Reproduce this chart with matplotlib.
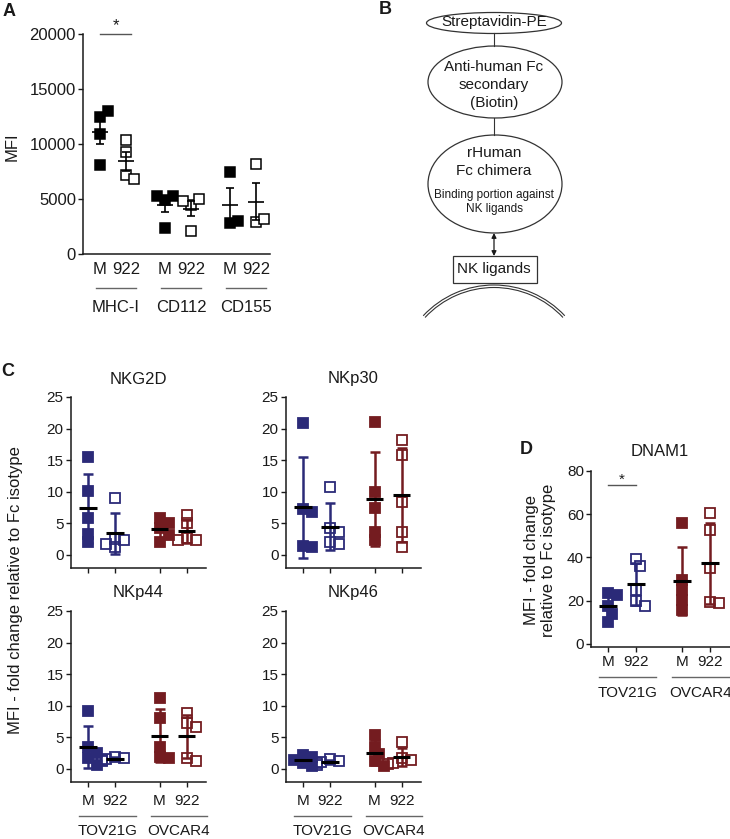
import numpy as np
import matplotlib
matplotlib.use('Agg')
import matplotlib.pyplot as plt
from matplotlib.patches import Ellipse, Arc, Rectangle

plt.rcParams['font.family'] = ['Liberation Sans', 'DejaVu Sans']

W, H = 730, 839
NAVY = '#2b2a78'
RED = '#741c20'
INK = '#1a1a1a'

# panel A - MFI
a_groups = ['MHC-I', 'CD112', 'CD155']
a_ticks = ['M', '922', 'M', '922', 'M', '922']
a_M = [[12500, 13000, 10900, 8100], [4900, 5300, 5300, 2400], [7500, 2800, 3000]]
a_922 = [[10400, 9300, 7200, 6800], [4500, 5000, 4800, 2100], [8200, 2900, 3200]]

# panel C / D - fold change (TOV21G M, TOV21G 922, OVCAR4 M, OVCAR4 922)
c_ticks = ['M', '922', 'M', '922']
c_lines = ['TOV21G', 'OVCAR4']
nkg2d = [[15.5, 10.2, 5.8, 3.3, 2.0], [9.0, 2.6, 2.3, 1.8, 1.3],
         [5.9, 5.0, 4.2, 3.2, 2.1], [6.4, 5.0, 2.7, 2.4, 2.3]]
nkp30 = [[20.9, 7.2, 6.8, 1.5, 1.2], [10.8, 4.2, 3.7, 2.0, 1.7],
         [21.1, 10.0, 7.4, 3.7, 2.3], [18.2, 15.8, 8.4, 3.7, 1.3]]
nkp44 = [[9.1, 3.5, 2.5, 1.7, 0.7], [1.9, 1.7, 1.6, 1.5, 1.3],
         [11.3, 8.0, 3.5, 1.9, 1.7], [8.8, 7.3, 6.7, 1.7, 1.3]]
nkp46 = [[2.2, 1.9, 1.4, 0.9, 0.4], [1.6, 1.3, 1.1, 0.9, 0.7],
         [5.4, 3.5, 2.3, 1.2, 0.5], [4.3, 1.8, 1.5, 1.0, 0.8]]
dnam1 = [[23.5, 22.5, 17.5, 14.0, 10.0], [39.5, 36.0, 25.0, 20.0, 17.5],
         [55.8, 29.5, 24.9, 20.3, 15.6], [60.5, 52.5, 35.0, 19.5, 19.0]]

fig = plt.figure(figsize=(W / 100, H / 100), dpi=100)


def px_axes(l, t, r, b):
    return fig.add_axes([l / W, 1 - b / H, (r - l) / W, (b - t) / H])


def px_text(x, y, s, **kw):
    fig.text(x / W, 1 - y / H, s, ha='center', va='center', color=INK, **kw)


def style(ax, fs):
    for s in ['top', 'right']:
        ax.spines[s].set_visible(False)
    for s in ['left', 'bottom']:
        ax.spines[s].set_linewidth(1.1)
        ax.spines[s].set_color(INK)
    ax.tick_params(length=3.6, width=1, colors=INK, labelsize=fs, pad=1.5)


def swarm(ax, x0, vals, size):
    # spread overlapping points sideways (pixel space)
    tr = ax.transData
    placed, xs = [], []
    for v in vals:
        bx, by = tr.transform((x0, v))
        for k in [0, 1, -1, 2, -2, 3, -3]:
            px = bx + k * 0.45 * size
            if all(np.hypot(px - qx, by - qy) >= 0.8 * size for qx, qy in placed):
                break
        placed.append((px, by))
        xs.append(tr.inverted().transform((px, by))[0])
    return xs


def group_labels(ax, centers, names, line_off, text_off, half, shift, fs):
    hpx = ax.get_position().height * H
    tr = ax.get_xaxis_transform()
    for c, n in zip(centers, names):
        ax.plot([c - half + shift, c + half + shift], [-line_off / hpx] * 2,
                transform=tr, color='#666666', lw=1, clip_on=False)
        ax.text(c + shift, -text_off / hpx, n, transform=tr, ha='center',
                va='center', fontsize=fs, color=INK)


# ---------------- panel A ----------------
axA = px_axes(83, 34, 270, 254)
a_pos = [0, 1, 2.5, 3.5, 5, 6]
axA.set_xlim(-0.65, 6.54)
axA.set_ylim(0, 20000)
style(axA, 12)
for i in range(3):
    for x0, vals, filled in [(a_pos[2 * i], a_M[i], True), (a_pos[2 * i + 1], a_922[i], False)]:
        vals = np.array(vals, dtype=float)
        xs = swarm(axA, x0, vals, 9)
        axA.plot(xs, vals, 's', ms=6.6, mfc='black' if filled else 'white',
                 mec='black', mew=1.1, ls='none', zorder=2)
        m = vals.mean()
        sem = vals.std(ddof=1) / np.sqrt(len(vals))
        axA.errorbar(x0, m, yerr=sem, fmt='none', ecolor='black', elinewidth=1.2,
                     capsize=2.6, capthick=1.2, zorder=3)
        axA.hlines(m, x0 - 0.3, x0 + 0.3, color='black', lw=1.2, zorder=4)
axA.set_yticks([0, 5000, 10000, 15000, 20000])
axA.set_xticks(a_pos)
axA.set_xticklabels(a_ticks)
axA.tick_params(axis='x', length=0, pad=6)
group_labels(axA, [0.5, 3.0, 5.5], a_groups, 34, 54, 0.77, 0.12, 12)
axA.plot([0, 1.2], [20000, 20000], color='#555555', lw=1, clip_on=False)
axA.annotate('*', xy=(0.6, 20000), xytext=(0, 6), textcoords='offset points',
             ha='center', va='center', fontsize=12, color=INK)
px_text(12, 147, 'MFI', rotation=90, fontsize=12)
px_text(9, 11, 'A', fontsize=13, fontweight='bold')

# ---------------- panel B ----------------
axB = px_axes(370, 0, 620, 320)
axB.set_xlim(370, 620)
axB.set_ylim(320, 0)
axB.axis('off')
ec = '#333333'
axB.add_patch(Ellipse((494, 23), 135, 21, fill=False, ec=ec, lw=0.9))
axB.add_patch(Ellipse((495, 82), 134, 72, fill=False, ec=ec, lw=0.9))
axB.add_patch(Ellipse((495, 184), 134, 98, fill=False, ec=ec, lw=0.9))
axB.plot([494, 494], [33.5, 46], color=ec, lw=0.8)
axB.plot([494, 494], [118, 135], color=ec, lw=0.8)
axB.annotate('', xy=(494, 233), xytext=(494, 256),
             arrowprops=dict(arrowstyle='<|-|>', color=INK, lw=0.9,
                             mutation_scale=7, shrinkA=0, shrinkB=0))
axB.add_patch(Rectangle((453, 256), 84, 27, fill=False, ec=ec, lw=0.9))
axB.add_patch(Arc((494, 381.8), 2 * 96.8, 2 * 96.8, theta1=223, theta2=317, ec=ec, lw=0.8))
axB.add_patch(Arc((494, 381.8), 2 * 94.3, 2 * 94.3, theta1=223, theta2=317, ec=ec, lw=0.8))
for y, s, fs in [(22, 'Streptavidin-PE', 11), (67, 'Anti-human Fc', 11),
                 (85, 'secondary', 11), (103, '(Biotin)', 11),
                 (153, 'rHuman', 11), (171, 'Fc chimera', 11),
                 (195, 'Binding portion against', 8.5), (209, 'NK ligands', 8.5),
                 (269, 'NK ligands', 11)]:
    axB.text(494, y, s, ha='center', va='center', fontsize=fs, color=INK)
px_text(385, 10, 'B', fontsize=13, fontweight='bold')

# ---------------- panel C ----------------
c_pos = [0, 1, 2.65, 3.65]
c_colors = [NAVY, NAVY, RED, RED]
c_filled = [True, False, True, False]


def fold_groups(ax, groups, size):
    for x0, vals, col, filled in zip(c_pos, groups, c_colors, c_filled):
        vals = np.array(vals, dtype=float)
        xs = swarm(ax, x0, vals, size)
        ax.plot(xs, vals, 's', ms=7, mfc=col if filled else 'none', mec=col,
                mew=1.3, ls='none', zorder=2, clip_on=False)
        m, sd = vals.mean(), vals.std(ddof=1)
        ax.errorbar(x0, m, yerr=sd, fmt='none', ecolor=col, elinewidth=1.8,
                    capsize=3.5, capthick=1.8, zorder=3)
        ax.hlines(m, x0 - 0.32, x0 + 0.32, color='black', lw=2.2, zorder=4)


c_layout = [('NKG2D', nkg2d, 70.5, 397, 568, False),
            ('NKp30', nkp30, 285.5, 397, 568, False),
            ('NKp44', nkp44, 70.5, 611, 782, True),
            ('NKp46', nkp46, 285.5, 611, 782, True)]
for title, groups, left, top, bottom, labels in c_layout:
    ax = px_axes(left, top, left + 135, bottom)
    ax.set_xlim(-0.65, 4.35)
    ax.set_ylim(-2.06, 25)
    style(ax, 11)
    fold_groups(ax, groups, 10)
    ax.set_yticks([0, 5, 10, 15, 20, 25])
    ax.set_xticks(c_pos)
    if labels:
        ax.set_xticklabels(c_ticks)
        ax.tick_params(axis='x', pad=5)
        group_labels(ax, [0.5, 3.15], c_lines, 34, 49, 1.04, 0.22, 11)
    else:
        ax.set_xticklabels([])
    px_text(left + 67.5, top - 18, title, fontsize=12)

px_text(16, 590, 'MFI - fold change relative to Fc isotype', rotation=90, fontsize=12)
px_text(8, 372, 'C', fontsize=13, fontweight='bold')

# ---------------- panel D ----------------
axD = px_axes(591, 471, 729.6, 647)
axD.set_xlim(-0.6, 4.35)
axD.set_ylim(-1.39, 80)
style(axD, 11)
fold_groups(axD, dnam1, 10)
axD.set_yticks([0, 20, 40, 60, 80])
axD.set_xticks(c_pos)
axD.set_xticklabels(c_ticks)
axD.tick_params(axis='x', pad=2)
group_labels(axD, [0.5, 3.1], c_lines, 30, 46, 1.02, 0.2, 11)
axD.plot([0, 1], [73.5, 73.5], color='#555555', lw=1, clip_on=False)
axD.annotate('*', xy=(0.5, 73.5), xytext=(0, 4), textcoords='offset points',
             ha='center', va='center', fontsize=11, color=INK)
px_text(660, 452, 'DNAM1', fontsize=12)
px_text(540, 560, 'MFI - fold change\nrelative to Fc isotype', rotation=90,
        fontsize=12, linespacing=1.1)
px_text(526, 449, 'D', fontsize=13, fontweight='bold')

fig.savefig('out.png', dpi=100)
